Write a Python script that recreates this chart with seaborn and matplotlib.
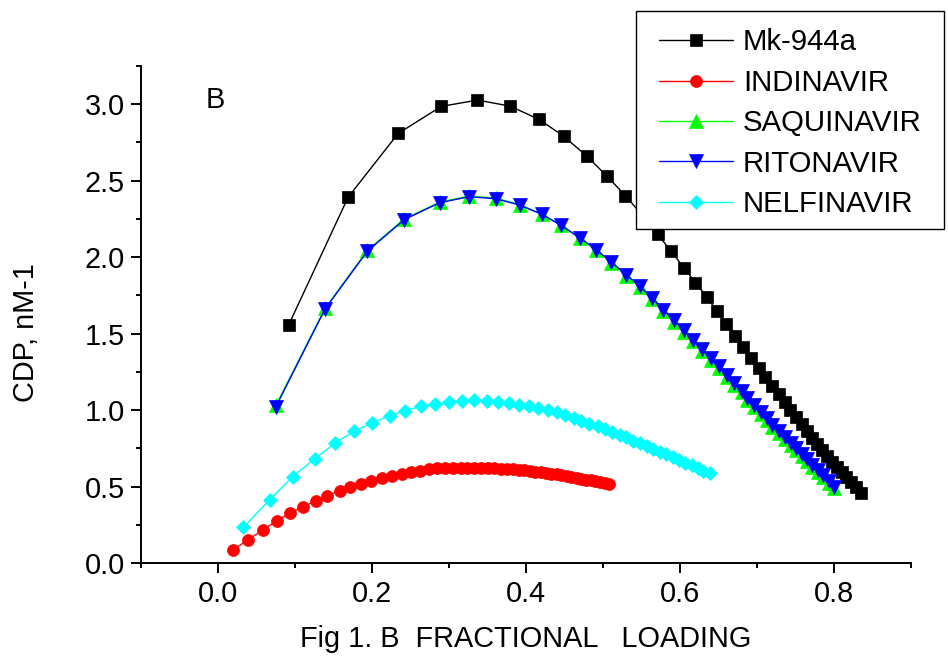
import numpy as np
import pandas as pd
import matplotlib
matplotlib.use("Agg")
import matplotlib.pyplot as plt
from matplotlib.patches import Rectangle
from matplotlib.ticker import MultipleLocator
import seaborn as sns

# Fractional loading (x) and CDP (y, nM-1) for each inhibitor
mk944a_x = [0.092, 0.169, 0.234, 0.290, 0.337, 0.379, 0.417, 0.449, 0.479, 0.505,
            0.529, 0.550, 0.571, 0.588, 0.605, 0.620, 0.635, 0.648, 0.660, 0.671,
            0.682, 0.692, 0.702, 0.711, 0.720, 0.728, 0.736, 0.743, 0.751, 0.758,
            0.765, 0.772, 0.778, 0.785, 0.791, 0.797, 0.804, 0.810, 0.816, 0.822,
            0.829, 0.835]
mk944a_y = [1.559, 2.392, 2.809, 2.986, 3.027, 2.988, 2.901, 2.790, 2.661, 2.530,
            2.403, 2.279, 2.150, 2.041, 1.932, 1.832, 1.740, 1.646, 1.563, 1.482,
            1.410, 1.338, 1.275, 1.216, 1.159, 1.105, 1.050, 1.000, 0.954, 0.908,
            0.860, 0.817, 0.775, 0.738, 0.701, 0.663, 0.627, 0.594, 0.561, 0.528,
            0.496, 0.460]

indinavir_x = [0.019, 0.039, 0.058, 0.076, 0.093, 0.111, 0.127, 0.142, 0.158, 0.172,
               0.186, 0.199, 0.213, 0.226, 0.239, 0.250, 0.262, 0.274, 0.285, 0.295,
               0.305, 0.315, 0.324, 0.333, 0.342, 0.351, 0.359, 0.367, 0.375, 0.383,
               0.391, 0.398, 0.405, 0.412, 0.419, 0.426, 0.433, 0.440, 0.446, 0.453,
               0.459, 0.466, 0.472, 0.478, 0.484, 0.490, 0.496, 0.502, 0.508]
indinavir_y = [0.085, 0.151, 0.216, 0.275, 0.325, 0.369, 0.406, 0.441, 0.472, 0.496,
               0.519, 0.539, 0.555, 0.570, 0.583, 0.594, 0.604, 0.614, 0.618, 0.620,
               0.622, 0.623, 0.623, 0.623, 0.622, 0.621, 0.619, 0.617, 0.615, 0.612,
               0.609, 0.606, 0.602, 0.598, 0.594, 0.590, 0.585, 0.580, 0.575, 0.570,
               0.564, 0.558, 0.552, 0.546, 0.540, 0.534, 0.528, 0.521, 0.514]

protease_x = [0.075, 0.139, 0.194, 0.242, 0.288, 0.326, 0.361, 0.392, 0.421, 0.446,
              0.470, 0.491, 0.511, 0.530, 0.548, 0.564, 0.578, 0.592, 0.605, 0.617,
              0.629, 0.640, 0.651, 0.661, 0.670, 0.680, 0.687, 0.696, 0.705, 0.713,
              0.720, 0.728, 0.736, 0.744, 0.751, 0.758, 0.765, 0.772, 0.779, 0.786,
              0.793, 0.800]
saquinavir_y = [1.030, 1.665, 2.045, 2.250, 2.360, 2.400, 2.386, 2.343, 2.280, 2.207,
                2.124, 2.046, 1.962, 1.880, 1.802, 1.725, 1.648, 1.578, 1.511, 1.450,
                1.388, 1.330, 1.274, 1.217, 1.165, 1.116, 1.064, 1.020, 0.977, 0.933,
                0.890, 0.850, 0.809, 0.774, 0.737, 0.699, 0.665, 0.628, 0.596, 0.561,
                0.526, 0.488]
ritonavir_y = [1.020, 1.661, 2.039, 2.246, 2.356, 2.395, 2.382, 2.340, 2.279, 2.207,
               2.126, 2.050, 1.967, 1.886, 1.809, 1.733, 1.657, 1.587, 1.521, 1.460,
               1.399, 1.341, 1.286, 1.229, 1.177, 1.128, 1.077, 1.033, 0.990, 0.946,
               0.903, 0.863, 0.822, 0.787, 0.750, 0.712, 0.678, 0.640, 0.608, 0.573,
               0.538, 0.499]

nelfinavir_x = [0.033, 0.067, 0.097, 0.126, 0.152, 0.176, 0.200, 0.223, 0.243, 0.263,
                0.282, 0.300, 0.317, 0.333, 0.349, 0.363, 0.378, 0.391, 0.404, 0.416,
                0.428, 0.440, 0.451, 0.462, 0.472, 0.482, 0.493, 0.502, 0.512, 0.522,
                0.530, 0.539, 0.548, 0.557, 0.565, 0.574, 0.582, 0.591, 0.599, 0.607,
                0.615, 0.623, 0.630, 0.639]
nelfinavir_y = [0.234, 0.413, 0.565, 0.683, 0.784, 0.860, 0.915, 0.963, 0.997, 1.024,
                1.041, 1.054, 1.059, 1.063, 1.060, 1.053, 1.045, 1.036, 1.026, 1.014,
                1.001, 0.985, 0.966, 0.948, 0.930, 0.912, 0.894, 0.876, 0.858, 0.838,
                0.821, 0.801, 0.784, 0.766, 0.747, 0.729, 0.712, 0.694, 0.675, 0.657,
                0.640, 0.620, 0.602, 0.586]

series = [
    ("Mk-944a", mk944a_x, mk944a_y, "#000000", "s", 9.0),
    ("INDINAVIR", indinavir_x, indinavir_y, "#ff0000", "o", 8.6),
    ("SAQUINAVIR", protease_x, saquinavir_y, "#00ff00", "^", 10.0),
    ("RITONAVIR", protease_x, ritonavir_y, "#0000ff", "v", 10.0),
    ("NELFINAVIR", nelfinavir_x, nelfinavir_y, "#00ffff", "D", 6.8),
]

FS = 20.8
LEG_FS = 21.2
W, H = 948, 666

sns.set_style("ticks")
plt.rcParams["font.family"] = ["Liberation Sans", "DejaVu Sans"]
plt.rcParams["font.size"] = FS
plt.rcParams["text.color"] = "black"
plt.rcParams["axes.labelcolor"] = "black"
plt.rcParams["xtick.color"] = "black"
plt.rcParams["ytick.color"] = "black"

fig = plt.figure(figsize=(W / 100, H / 100), dpi=100)
ax = fig.add_axes([141 / W, 1 - 563 / H, (911 - 141) / W, (563 - 66) / H])

for name, xs, ys, color, marker, ms in series:
    df = pd.DataFrame({"x": xs, "y": ys})
    sns.lineplot(data=df, x="x", y="y", ax=ax, color=color, marker=marker,
                 markersize=ms, markeredgecolor=color, markeredgewidth=0.5,
                 linewidth=1.0, sort=False, estimator=None, label=name)

ax.set_xlim(-0.1, 0.9)
ax.set_ylim(0.0, 3.25)
ax.xaxis.set_minor_locator(MultipleLocator(0.1))
ax.yaxis.set_minor_locator(MultipleLocator(0.25))
ax.set_xticks([0.0, 0.2, 0.4, 0.6, 0.8])
ax.set_xticklabels(["0.0", "0.2", "0.4", "0.6", "0.8"])
ax.set_yticks([0.0, 0.5, 1.0, 1.5, 2.0, 2.5, 3.0])
ax.set_yticklabels(["0.0", "0.5", "1.0", "1.5", "2.0", "2.5", "3.0"])

sns.despine(ax=ax)
for side in ("left", "bottom"):
    ax.spines[side].set_linewidth(1.4)
    ax.spines[side].set_color("black")
ax.tick_params(axis="both", which="major", direction="out", length=7.5, width=1.4,
               labelsize=FS, colors="black")
ax.tick_params(axis="both", which="minor", direction="out", length=3.6, width=1.4,
               colors="black")
ax.tick_params(axis="x", which="major", pad=5)
ax.tick_params(axis="y", which="major", pad=4)

ax.set_xlabel("Fig 1. B  FRACTIONAL   LOADING", fontsize=FS)
ax.set_ylabel("CDP, nM-1", fontsize=FS)
ax.xaxis.set_label_coords(0.5, -0.124)
ax.yaxis.set_label_coords(-0.131, 0.463)
ax.text(-0.003, 3.03, "B", fontsize=FS, ha="center", va="center")

# Legend box drawn as a plain framed rectangle, entries placed inside it
box = Rectangle((636 / W, 1 - 229 / H), (944 - 636) / W, (229 - 11) / H,
                transform=fig.transFigure, facecolor="white", edgecolor="black",
                linewidth=1.0, clip_on=False, zorder=4.5)
ax.add_patch(box)

fs_px = LEG_FS * 100 / 72
leg = ax.legend(loc="upper left", bbox_to_anchor=(659 / W, 1 - 28.5 / H),
                bbox_transform=fig.transFigure, borderaxespad=0, borderpad=0,
                frameon=False, fontsize=LEG_FS,
                handlelength=74 / fs_px, handletextpad=10 / fs_px,
                labelspacing=0.42, numpoints=1)
leg.set_zorder(5)

fig.savefig("out.png", dpi=100)
